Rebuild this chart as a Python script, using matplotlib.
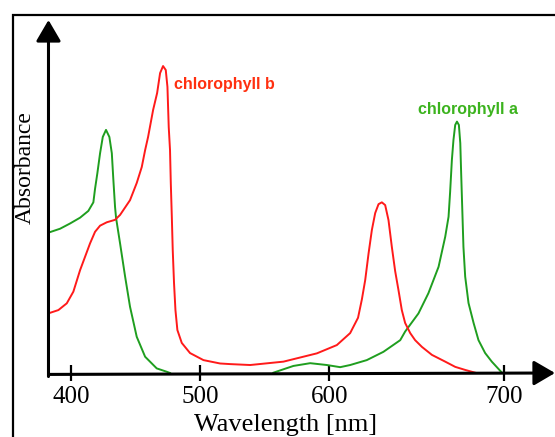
import numpy as np
import matplotlib.pyplot as plt
from matplotlib.patches import Rectangle

# 吸收光谱数据（从图中读取，纵轴为相对吸光度）
chl_a_blue_nm = [383.7, 391.5, 399.2, 407.0, 413.4, 417.3, 418.6, 420.4, 422.5, 424.6,
                 427.1, 429.7, 431.6, 432.8, 434.1, 434.9, 438.0, 441.9, 445.7, 450.9,
                 457.4, 466.4, 474.2, 476.7]
chl_a_blue_abs = [0.459, 0.470, 0.487, 0.506, 0.528, 0.556, 0.600, 0.651, 0.716, 0.769,
                  0.792, 0.769, 0.716, 0.629, 0.541, 0.505, 0.422, 0.314, 0.216, 0.118,
                  0.053, 0.015, 0.004, 0.0]

chl_a_red_nm = [556.8, 564.5, 572.3, 585.3, 598.2, 606.3, 612.0, 621.5, 631.0, 640.6,
                643.4, 651.0, 656.7, 662.5, 666.3, 668.2, 669.1, 670.1, 671.0, 672.0,
                673.0, 674.1, 674.9, 675.4, 676.0, 676.7, 677.7, 679.6, 682.5, 685.3,
                689.1, 692.9, 698.7]
chl_a_red_abs = [0.001, 0.012, 0.023, 0.032, 0.026, 0.019, 0.026, 0.042, 0.069, 0.107,
                 0.135, 0.194, 0.260, 0.346, 0.444, 0.509, 0.590, 0.694, 0.759, 0.808,
                 0.819, 0.808, 0.749, 0.651, 0.541, 0.411, 0.314, 0.228, 0.163, 0.107,
                 0.065, 0.037, 0.001]

chl_b_nm = [383.7, 390.2, 396.7, 401.8, 407.0, 410.9, 414.7, 418.6, 422.5, 427.7,
            434.1, 438.0, 445.7, 450.9, 454.8, 457.4, 459.7, 463.6, 466.7, 469.0,
            471.3, 473.4, 474.7, 475.7, 476.7, 477.3, 478.1, 478.8, 479.8, 480.9,
            482.4, 485.8, 492.2, 502.6, 515.5, 523.3, 538.8, 564.6, 590.5, 604.4,
            612.0, 616.5, 618.7, 620.6, 622.5, 624.4, 626.3, 628.2, 630.1, 632.0,
            633.9, 635.8, 637.7, 639.6, 641.5, 643.4, 646.3, 649.1, 653.0, 658.7,
            666.3, 672.0, 677.7, 683.4]
chl_b_abs = [0.196, 0.205, 0.227, 0.265, 0.335, 0.379, 0.422, 0.460, 0.480, 0.491,
             0.499, 0.515, 0.563, 0.619, 0.671, 0.726, 0.769, 0.857, 0.912, 0.977,
             1.0, 0.987, 0.932, 0.801, 0.726, 0.619, 0.508, 0.401, 0.293, 0.205,
             0.140, 0.098, 0.065, 0.042, 0.031, 0.029, 0.026, 0.037, 0.064, 0.091,
             0.130, 0.180, 0.240, 0.303, 0.389, 0.466, 0.521, 0.550, 0.556, 0.547,
             0.498, 0.411, 0.332, 0.270, 0.205, 0.163, 0.130, 0.107, 0.085, 0.059,
             0.037, 0.020, 0.010, 0.001]

tick_nm = [400, 500, 600, 700]
tick_labels = ['400', '500', '600', '700']


# 原图横轴 600-700 段被拉宽，用分段线性刻度还原
def forward(x):
    x = np.asarray(x, dtype=float)
    return np.where(x <= 600, x, 600 + (x - 600) * 1.75 / 1.29)


def inverse(y):
    y = np.asarray(y, dtype=float)
    return np.where(y <= 600, y, 600 + (y - 600) * 1.29 / 1.75)


W, H = 555, 437
fig = plt.figure(figsize=(W / 100, H / 100), dpi=100)
fig.patch.set_facecolor('white')

# 外框（右、下两边超出画面）
fig.patches.append(Rectangle((13 / W, -0.2), 2.0, (H - 15) / H + 0.2,
                             transform=fig.transFigure, fill=False,
                             edgecolor='black', lw=1.6))

ax = fig.add_axes([50 / W, (H - 373) / H, 505 / W, 353 / H])
ax.set_xscale('function', functions=(forward, inverse))
ax.set_xlim(383.7, 729)
ax.set_ylim(0, 1.15)

red = '#ff1a1a'
green = '#1f9e1f'
ax.plot(chl_a_blue_nm, chl_a_blue_abs, color=green, lw=1.4)
ax.plot(chl_a_red_nm, chl_a_red_abs, color=green, lw=1.4)
ax.plot(chl_b_nm, chl_b_abs, color=red, lw=1.4)

ax.text(479.8, 0.94, 'chlorophyll b', color='#ff3010', fontsize=11.5,
        fontweight='bold', family='Liberation Sans', va='center', ha='left')
ax.text(650.9, 0.857, 'chlorophyll a', color='#3cb31e', fontsize=11.5,
        fontweight='bold', family='Liberation Sans', va='center', ha='left')

for s in ax.spines.values():
    s.set_visible(False)

# 带箭头的坐标轴
ax.annotate('', xy=(1, 0), xytext=(0, -0.004), xycoords='axes fraction',
            arrowprops=dict(arrowstyle='-|>,head_length=0.65,head_width=0.38',
                            lw=2.2, color='black', mutation_scale=20,
                            shrinkA=0, shrinkB=0), annotation_clip=False)
ax.annotate('', xy=(-0.003, 1), xytext=(-0.003, -0.01), xycoords='axes fraction',
            arrowprops=dict(arrowstyle='-|>,head_length=0.65,head_width=0.38',
                            lw=2.2, color='black', mutation_scale=20,
                            shrinkA=0, shrinkB=0), annotation_clip=False)

ax.set_xticks(tick_nm)
ax.set_xticklabels(tick_labels, family='Liberation Serif', fontsize=18)
ax.xaxis.set_minor_locator(plt.NullLocator())
ax.tick_params(axis='x', direction='inout', length=11, width=1.6, pad=4)
ax.set_yticks([])

ax.set_xlabel('Wavelength [nm]', family='Liberation Serif', fontsize=19)
ax.xaxis.set_label_coords((286 - 50) / 505, -(425 - 373) / 353)
ax.set_ylabel('Absorbance', family='Liberation Serif', fontsize=17)
ax.yaxis.set_label_coords(-(50 - 25) / 505, (373 - 168) / 353)
ax.xaxis.label.set_va('center')
ax.yaxis.label.set_va('center')

fig.savefig('out.png', dpi=100)
